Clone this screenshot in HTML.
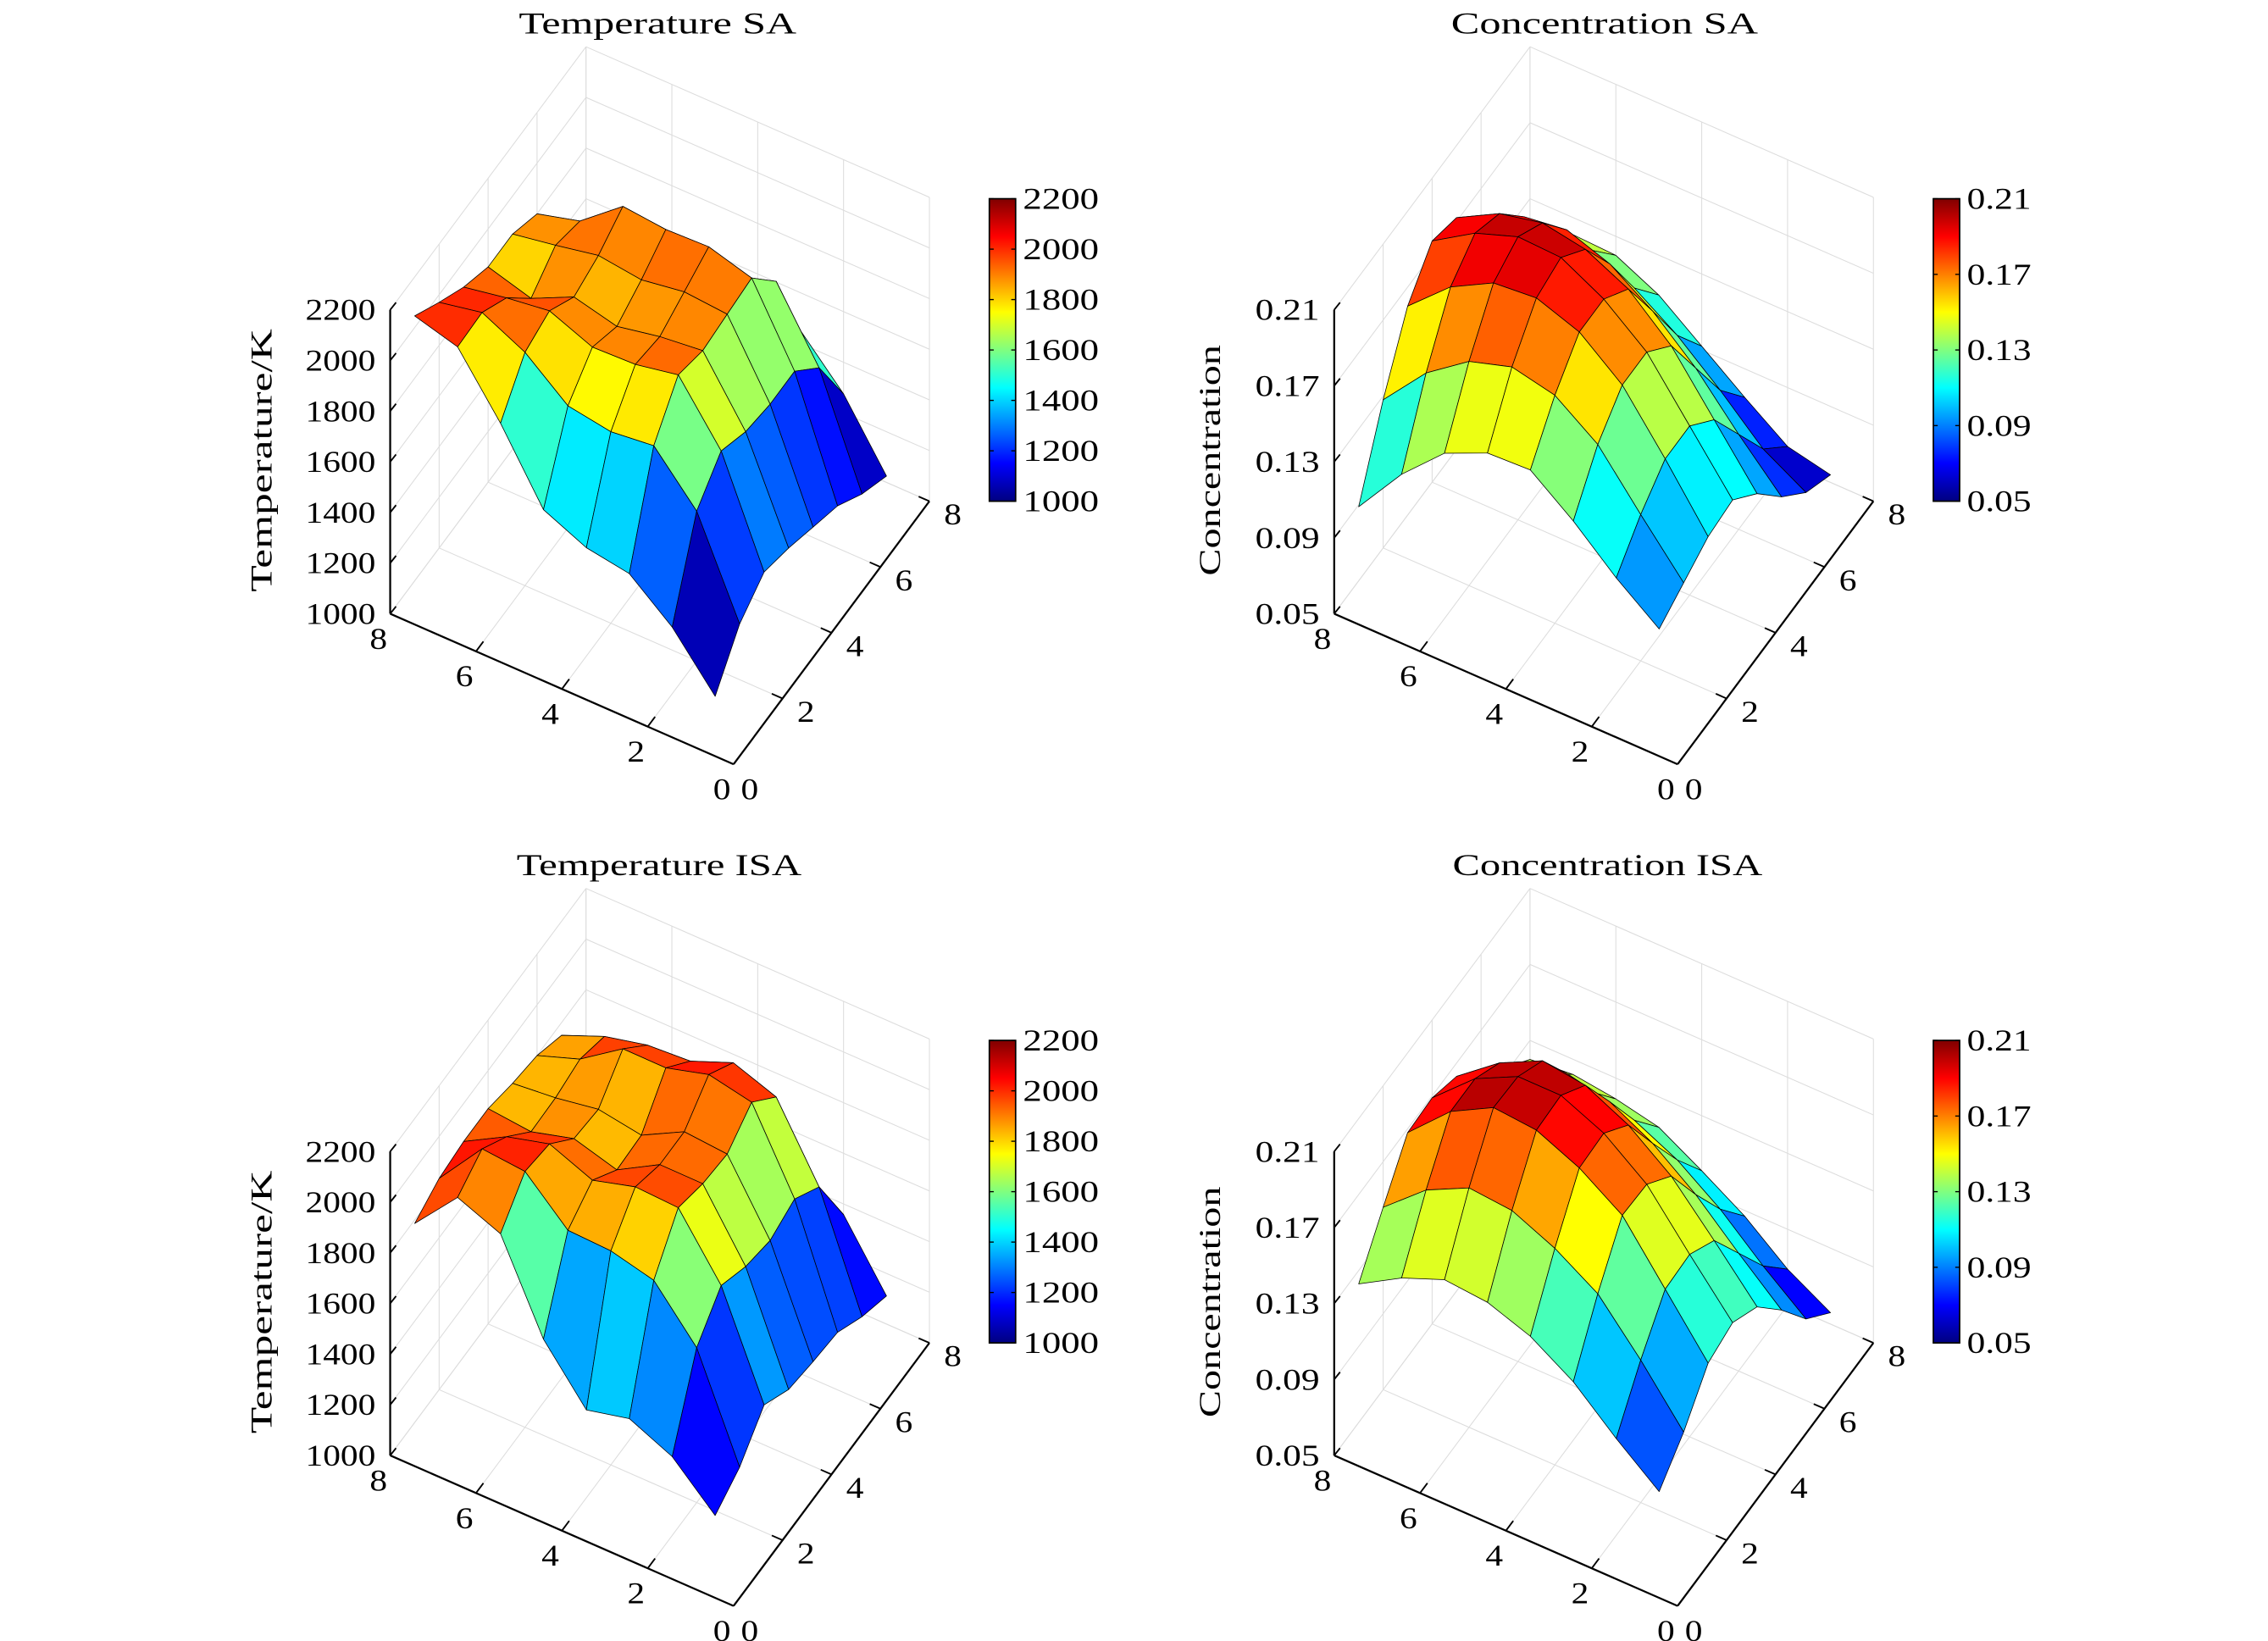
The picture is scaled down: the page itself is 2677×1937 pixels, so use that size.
<!DOCTYPE html>
<html><head><meta charset="utf-8"><style>
html,body{margin:0;padding:0;background:#fff;}
svg{display:block;}
text{font-family:"Liberation Serif",serif;fill:#000;}
</style></head><body>
<svg id="fig" xmlns="http://www.w3.org/2000/svg" width="2677" height="1937" viewBox="0 0 1552 1123">
<defs>
<linearGradient id="jet" x1="0" y1="1" x2="0" y2="0">
<stop offset="0" stop-color="#000080"/><stop offset="0.125" stop-color="#0000ff"/>
<stop offset="0.375" stop-color="#00ffff"/><stop offset="0.625" stop-color="#ffff00"/>
<stop offset="0.875" stop-color="#ff0000"/><stop offset="1" stop-color="#800000"/>
</linearGradient>
</defs>
</svg>
<script>
// grid coordinates (1..8 on each horizontal axis)
const uVals = [1,2,3,4,5,6,7,8];
const vVals = [1,2,3,4,5,6,7,8];
const axisTicks = [0,2,4,6,8];
const tempTicks = [1000,1200,1400,1600,1800,2000,2200];
const tempTickLabels = ["1000","1200","1400","1600","1800","2000","2200"];
const concTicks = [0.05,0.09,0.13,0.17,0.21];
const concTickLabels = ["0.05","0.09","0.13","0.17","0.21"];
const titles = ["Temperature SA","Concentration SA","Temperature ISA","Concentration ISA"];
// rows = u (1..8), cols = v (1..8)
const tempSA = [
 [1064,1220,1295,1260,1213,1167,1084,1025],
 [1263,1591,1699,1645,1624,1624,1508,1275],
 [1400,1775,1925,1891,1905,1918,1775,1450],
 [1428,1756,1892,1872,1919,1967,1700,1400],
 [1504,1784,1886,1838,1892,1961,1650,1400],
 [1771,1921,1955,1880,1914,1978,1650,1400],
 [1998,2004,1932,1800,1880,1846,1600,1400],
 [2046,1970,1900,1850,1850,1800,1600,1400]];
const concSA = [
 [0.094,0.101,0.108,0.110,0.096,0.077,0.062,0.054],
 [0.111,0.127,0.139,0.139,0.125,0.100,0.075,0.059],
 [0.131,0.154,0.168,0.168,0.154,0.125,0.096,0.075],
 [0.148,0.170,0.186,0.186,0.174,0.145,0.115,0.092],
 [0.147,0.175,0.194,0.198,0.185,0.160,0.130,0.109],
 [0.137,0.168,0.192,0.199,0.189,0.168,0.140,0.120],
 [0.116,0.152,0.180,0.191,0.184,0.165,0.140,0.121],
 [0.089,0.128,0.160,0.177,0.172,0.155,0.135,0.119]];
const tempISA = [
 [1153,1214,1330,1261,1241,1227,1159,1111],
 [1311,1611,1727,1672,1645,1679,1597,1358],
 [1387,1803,1960,1925,1912,1987,1878,1427],
 [1347,1845,1968,1926,1926,2022,1939,1500],
 [1552,1852,1920,1831,1838,1974,1871,1500],
 [1894,2010,1989,1880,1866,1975,1860,1500],
 [1963,2025,1943,1833,1837,1860,1820,1500],
 [1786,1834,1850,1850,1820,1800,1750,1500]];
const concISA = [
 [0.083,0.097,0.116,0.120,0.111,0.092,0.070,0.056],
 [0.101,0.125,0.145,0.146,0.136,0.112,0.088,0.069],
 [0.121,0.150,0.174,0.173,0.160,0.133,0.108,0.087],
 [0.135,0.164,0.189,0.190,0.177,0.150,0.124,0.101],
 [0.143,0.174,0.199,0.200,0.188,0.162,0.135,0.114],
 [0.145,0.176,0.201,0.200,0.191,0.167,0.140,0.119],
 [0.136,0.165,0.189,0.189,0.180,0.160,0.140,0.122],
 [0.123,0.146,0.168,0.169,0.163,0.148,0.133,0.120]];

const NS="http://www.w3.org/2000/svg";
const svg=document.getElementById('fig');
const X0=502,Y0=523,AX=-29.375,AY=-12.875,BX=16.75,BY=-22.5,ZH=208;
const FS=21;
function jet(f){f=Math.max(0,Math.min(1,f));const c=x=>Math.round(255*Math.max(0,Math.min(1,1.5-Math.abs(4*f-x))));return `rgb(${c(3)},${c(2)},${c(1)})`;}
function mk(tag,attrs,parent){const e=document.createElementNS(NS,tag);for(const k in attrs)e.setAttribute(k,attrs[k]);(parent||svg).appendChild(e);return e;}

const panels=[
 {key:'temperature-sa',dx:0,dy:0,zmin:1000,zmax:2200,data:tempSA,ticks:tempTicks,labels:tempTickLabels,zlabel:'Temperature/K',zlw:180,title:titles[0],tw:190,tx:450,zlx:181},
 {key:'concentration-sa',dx:646,dy:0,zmin:0.05,zmax:0.21,data:concSA,ticks:concTicks,labels:concTickLabels,zlabel:'Concentration',zlw:158,title:titles[1],tw:210,tx:1098,zlx:830},
 {key:'temperature-isa',dx:0,dy:576,zmin:1000,zmax:2200,data:tempISA,ticks:tempTicks,labels:tempTickLabels,zlabel:'Temperature/K',zlw:180,title:titles[2],tw:195,tx:451,zlx:181},
 {key:'concentration-isa',dx:646,dy:576,zmin:0.05,zmax:0.21,data:concISA,ticks:concTicks,labels:concTickLabels,zlabel:'Concentration',zlw:158,title:titles[3],tw:212,tx:1100,zlx:830}
];

panels.forEach(p=>{
 const P=(u,v,z)=>[p.dx+X0+AX*u+BX*v, p.dy+Y0+AY*u+BY*v-(z-p.zmin)/(p.zmax-p.zmin)*ZH];
 const isT=p.zmax>100;
 const g=mk('g',{});
 
 
 const line=(a,b,st,w,par,name)=>{const l=mk('line',{x1:a[0],y1:a[1],x2:b[0],y2:b[1],stroke:st,'stroke-width':w},par);return l;};
 const grid=mk('g',{},g);
 
 
 const GC='#dcdcdc';
 p.ticks.forEach(z=>{line(P(8,0,z),P(8,8,z),GC,0.6,grid,'grid-line');line(P(0,8,z),P(8,8,z),GC,0.6,grid,'grid-line');});
 axisTicks.forEach(k=>{
  line(P(8,k,p.zmin),P(8,k,p.zmax),GC,0.6,grid,'grid-line');
  line(P(k,8,p.zmin),P(k,8,p.zmax),GC,0.6,grid,'grid-line');
  line(P(k,0,p.zmin),P(k,8,p.zmin),GC,0.6,grid,'grid-line');
  line(P(0,k,p.zmin),P(8,k,p.zmin),GC,0.6,grid,'grid-line');
 });
 const surf=mk('g',{},g);
 
 
 const faces=[];
 for(let i=0;i<uVals.length-1;i++)for(let j=0;j<vVals.length-1;j++)faces.push([i,j]);
 faces.sort((a,b)=>(b[0]+b[1])-(a[0]+a[1]) || (b[0]-a[0]));
 faces.forEach(([i,j])=>{
  const d=p.data;
  const pts=[P(uVals[i],vVals[j],d[i][j]),P(uVals[i+1],vVals[j],d[i+1][j]),P(uVals[i+1],vVals[j+1],d[i+1][j+1]),P(uVals[i],vVals[j+1],d[i][j+1])];
  const f=(d[i][j]-p.zmin)/(p.zmax-p.zmin);
  const poly=mk('polygon',{points:pts.map(q=>q[0].toFixed(2)+','+q[1].toFixed(2)).join(' '),fill:jet(f),stroke:'#000','stroke-width':0.45,'stroke-linejoin':'round'},surf);
  
  
 });
 const ax=mk('g',{},g);
 
 
 line(P(8,0,p.zmin),P(8,0,p.zmax),'#000',1.3,ax,'z-axis');
 line(P(0,0,p.zmin),P(8,0,p.zmin),'#000',1.3,ax,'x-axis');
 line(P(0,0,p.zmin),P(0,8,p.zmin),'#000',1.3,ax,'y-axis');
 const txt=(x,y,s,anchor,name,w,extra)=>{const a=Object.assign({x:x,y:y,'font-size':FS,'text-anchor':anchor},extra||{});if(w){a.textLength=w;a.lengthAdjust='spacingAndGlyphs';}const t=mk('text',a,ax);t.textContent=s;return t;};
 p.ticks.forEach((z,k)=>{
  const q=P(8,0,z);
  line(q,[q[0]+4,q[1]-5],'#000',1.1,ax,'z-tick');
  txt(q[0]-10,q[1]+7,p.labels[k],'end','z-tick-label',isT?48:44);
 });
 axisTicks.forEach(k=>{
  const a=P(k,0,p.zmin);
  if(k>0&&k<8) line(a,[a[0]+BX*0.3,a[1]+BY*0.3],'#000',1.1,ax,'x-tick');
  txt(a[0]-8,a[1]+24,String(k),'middle','x-tick-label',12);
  const b=P(0,k,p.zmin);
  if(k>0) line(b,[b[0]+AX*0.25,b[1]+AY*0.25],'#000',1.1,ax,'y-tick');
  txt(b[0]+(k===0?11:16),b[1]+(k===0?24:16),String(k),'middle','y-tick-label',12);
 });
 const zl=txt(p.zlx,315+p.dy,p.zlabel,'middle','z-axis-title',p.zlw,{transform:`rotate(-90 ${p.zlx} ${315+p.dy})`});
 zl.setAttribute('dominant-baseline','middle');
 txt(p.tx,23+p.dy,p.title,'middle','chart-title',p.tw);
 const cx=677+p.dx, cy=136+p.dy, cw=18, ch=207;
 const cb=mk('rect',{x:cx,y:cy,width:cw,height:ch,fill:'url(#jet)',stroke:'#000','stroke-width':1},g);
 
 
 p.ticks.forEach((z,k)=>{
  const y=cy+ch-(z-p.zmin)/(p.zmax-p.zmin)*ch;
  line([cx,y],[cx+3,y],'#000',0.8,g,'colorbar-tick');
  line([cx+cw-3,y],[cx+cw,y],'#000',0.8,g,'colorbar-tick');
  const t=mk('text',{x:cx+cw+5,y:y+7,'font-size':FS,textLength:isT?52:44,lengthAdjust:'spacingAndGlyphs'},g);
  t.textContent=p.labels[k];
  
  
 });
});
</script>
</body></html>
